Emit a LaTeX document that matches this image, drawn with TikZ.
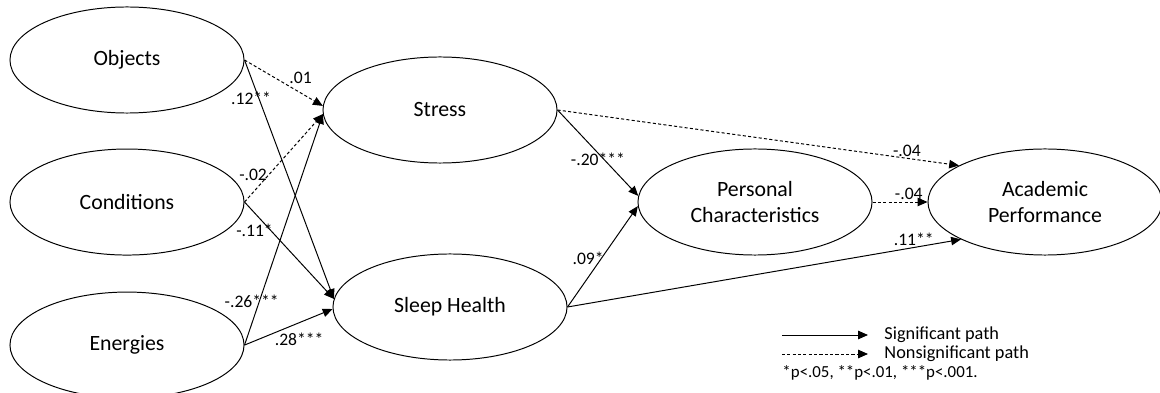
\documentclass[tikz,border=0pt]{standalone}
\usepackage{fontspec}
\setmainfont{Carlito}
\usetikzlibrary{arrows.meta,shapes.geometric,positioning}

\begin{document}
\begin{tikzpicture}[x=0.025cm,y=-0.025cm,->,>={Triangle[length=7pt,width=6pt]},line width=0.7pt,node distance=3.55cm,on grid]
	\tikzstyle{latent}=[draw, ellipse, minimum width=5.85cm, minimum height=2.65cm, inner sep=0pt, align=center, font=\fontsize{15.5}{18}\selectfont]
	\tikzstyle{ns}=[dash pattern=on 2.2pt off 1.6pt]
	\tikzstyle{coef}=[font=\fontsize{12.5}{14}\selectfont, inner sep=1pt]
	\tikzstyle{legend}=[font=\fontsize{13}{15}\selectfont, inner sep=0pt, anchor=west]
	\useasboundingbox (0,0) rectangle (1160,393);

	% latent variables
	\node[latent] (Obj) at (127,60) {Objects};
	\node[latent] (Cond) [below=of Obj] {Conditions};
	\node[latent] (Ener) [below=3.575cm of Cond] {Energies};
	\node[latent] (Str) at (440,110) {Stress};
	\node[latent] (Slp) at (450,307) {Sleep Health};
	\node[latent] (Pers) at (755,202) {Personal\\Characteristics};
	\node[latent] (Acad) at (1045,202) {Academic\\Performance};

	% paths
	\draw[ns] (Obj.east) -- (Str.178) node[coef, pos=.55, anchor=south west] {.01};
	\draw (Obj.east) -- (Slp.176) node[coef, pos=.16, xshift=-5.5pt] {.12**};
	\draw[ns] (Cond.east) -- (Str.182) node[coef, pos=.31, anchor=east] {-.02};
	\draw (Cond.east) -- (Slp.176) node[coef, pos=.29, anchor=east, xshift=3pt] {-.11*};
	\draw (Ener.east) -- (Str.182) node[coef, pos=.19, xshift=-5.5pt] {-.26***};
	\draw (Ener.east) -- (Slp.181) node[coef, pos=.62, anchor=north, yshift=-6pt] {.28***};
	\draw (Str.east) -- (Pers.177) node[coef, pos=.57, xshift=-4pt] {-.20***};
	\draw[ns] (Str.east) -- (Acad.157) node[coef, pos=.87, above] {-.04};
	\draw (Slp.east) -- (Pers.182) node[coef, pos=.48, anchor=east, xshift=3pt] {.09*};
	\draw[ns] (Pers.east) -- (Acad.west) node[coef, pos=.66, above] {-.04};
	\draw (Slp.east) -- (Acad.204) node[coef, pos=.88, above] {.11**};

	% legend
	\coordinate (SigA) at (782,335);
	\coordinate (SigB) at (868,335);
	\coordinate (NsA) at (782,354);
	\coordinate (NsB) at (868,354);
	\node[legend] (SigTxt) at (884,335) {Significant path};
	\node[legend] (NsTxt) at (884,354) {Nonsignificant path};
	\node[legend, font=\fontsize{12}{14}\selectfont] (Note) at (782,373) {*p<.05, **p<.01, ***p<.001.};
	\draw (SigA) -- (SigB);
	\draw[ns] (NsA) -- (NsB);
\end{tikzpicture}
\end{document}
